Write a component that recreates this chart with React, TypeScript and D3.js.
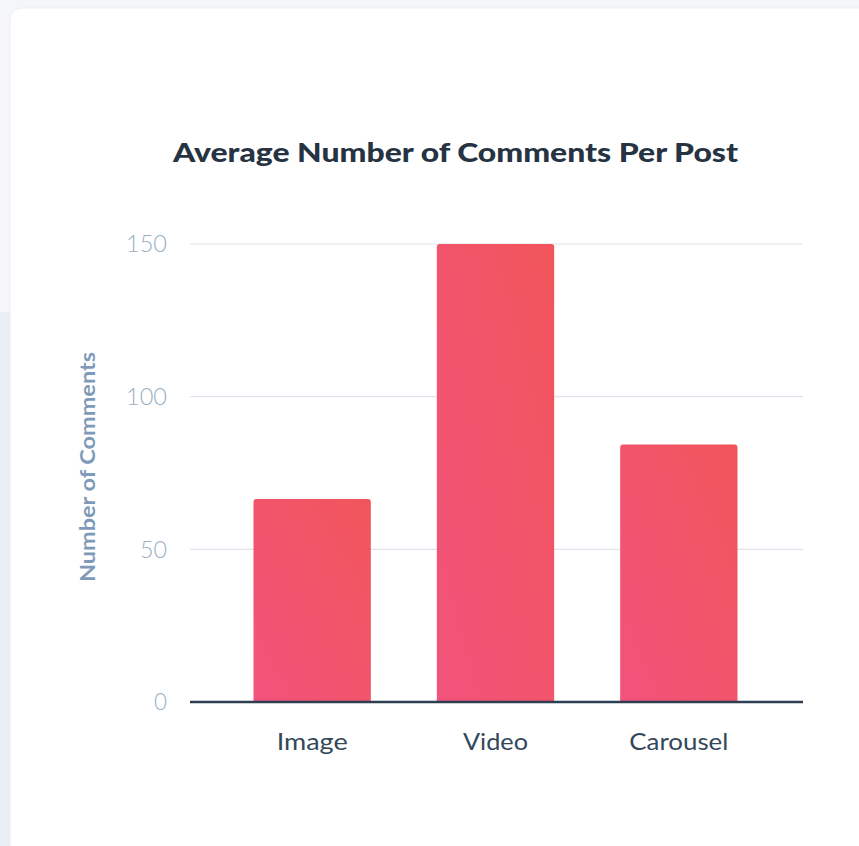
import React from "react";
import * as d3 from "d3";

const categories = ["Image", "Video", "Carousel"];
const values = [66.5, 150, 84.3];
const yTicks = [0, 50, 100, 150];
const title = "Average Number of Comments Per Post";
const yTitle = "Number of Comments";

const W = 859;
const H = 846;

export default function App() {
  const y = d3.scaleLinear().domain([0, 150]).range([702, 244]);
  const x = d3.scaleBand<string>().domain(categories).range([220.5, 770.5]).paddingInner(0.36).paddingOuter(0.18);
  const gridX0 = 190;
  const gridX1 = 803;
  const r = 3;
  const labelWidths: Record<string, number> = { Image: 71, Video: 65, Carousel: 99 };
  const barPath = (x0: number, y0: number, w: number, y1: number) =>
    `M${x0},${y1}V${y0 + r}Q${x0},${y0} ${x0 + r},${y0}H${x0 + w - r}Q${x0 + w},${y0} ${x0 + w},${y0 + r}V${y1}Z`;
  return (
    <svg
      width={W}
      height={H}
      style={{ position: "absolute", left: 0, top: 0, display: "block" }}
      fontFamily="Lato, 'Open Sans', sans-serif"
    >
      <defs>
        <linearGradient id="barGrad" x1="0" y1="1" x2="1" y2="0">
          <stop offset="0%" stopColor="#f2537c" />
          <stop offset="100%" stopColor="#f1555a" />
        </linearGradient>
      </defs>
      <rect x={0} y={0} width={W} height={H} fill="#f5f6f8" />
      <rect x={0} y={312} width={12} height={H - 312} fill="#eaedf5" />
      <rect x={10} y={8} width={W + 20} height={H + 20} rx={12} fill="#ffffff" stroke="#eceef1" strokeWidth={1} />
      <text
        x={455.5}
        y={162}
        textAnchor="middle"
        fontSize={27}
        fontWeight={900}
        fill="#253342"
        textLength={565}
        lengthAdjust="spacingAndGlyphs"
      >
        {title}
      </text>
      {yTicks.map((t) => (
        <g key={t}>
          {t !== 0 && (
            <line x1={gridX0} x2={gridX1} y1={y(t)} y2={y(t)} stroke="#dfe3eb" strokeWidth={1.2} />
          )}
          <text
            x={167}
            y={y(t)}
            dy="0.36em"
            textAnchor="end"
            fontSize={23}
            fontWeight={300}
            fill="#99afc4"
            textLength={t >= 100 ? 41 : t === 50 ? 27 : 13}
            lengthAdjust="spacingAndGlyphs"
          >
            {t}
          </text>
        </g>
      ))}
      <text
        transform={`translate(95,467) rotate(-90)`}
        textAnchor="middle"
        fontSize={20}
        fontWeight={700}
        fill="#7f9ab8"
        textLength={230}
        lengthAdjust="spacingAndGlyphs"
      >
        {yTitle}
      </text>
      {categories.map((c, i) => {
        const bx = x(c) as number;
        const bw = x.bandwidth();
        return (
          <g key={c}>
            <path d={barPath(bx, y(values[i]), bw, y(0))} fill="url(#barGrad)" />
            <text
              x={bx + bw / 2}
              y={750}
              textAnchor="middle"
              fontSize={23}
              fill="#33475b"
              textLength={labelWidths[c]}
              lengthAdjust="spacingAndGlyphs"
            >
              {c}
            </text>
          </g>
        );
      })}
      <line x1={gridX0} x2={gridX1} y1={y(0)} y2={y(0)} stroke="#2d3e50" strokeWidth={2.5} />
    </svg>
  );
}
